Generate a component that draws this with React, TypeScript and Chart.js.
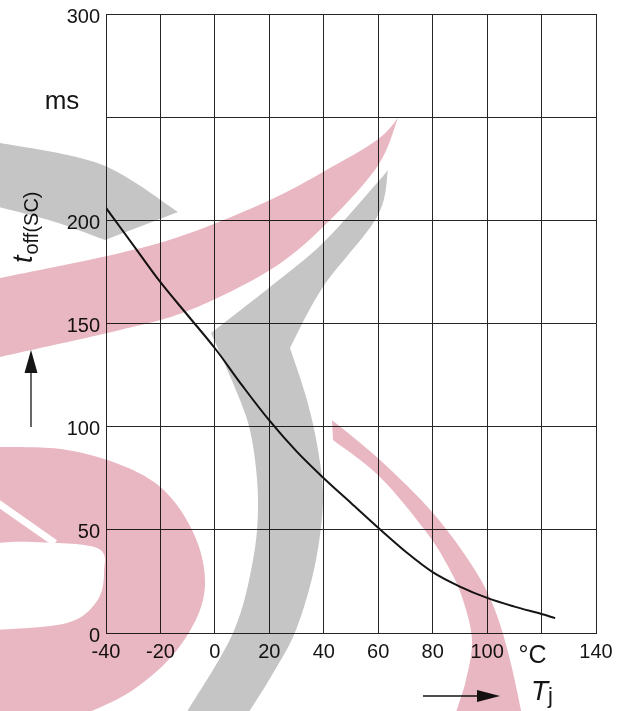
import React, { useEffect, useRef } from 'react';
import { Chart, registerables } from 'chart.js';

Chart.register(...registerables);

// ---- data ----
const temperatures = [-40, -30, -20, -10, 0, 10, 20, 30, 40, 50, 60, 70, 80, 90, 100, 110, 120, 125];
const toffValues = [206, 188, 170, 154, 138, 120, 103, 88, 75, 63, 51, 39.5, 29.5, 22.5, 17, 12.8, 9.2, 7.2];
const xTicks = [-40, -20, 0, 20, 40, 60, 80, 100, 120, 140];
const yTicks = [0, 50, 100, 150, 200, 250, 300];
const xUnit = '°C';
const yUnit = 'ms';
const xUnitTick = 120;
const yUnitTick = 250;

const FONT = '"Liberation Sans", Arial, Helvetica, sans-serif';
const INK = '#151515';
const GRID = '#262626';

type P = [number, number];

function curveThrough(ctx: CanvasRenderingContext2D, pts: P[], move: boolean) {
  if (move) ctx.moveTo(pts[0][0], pts[0][1]);
  else ctx.lineTo(pts[0][0], pts[0][1]);
  for (let i = 0; i < pts.length - 1; i++) {
    const p0 = pts[i - 1] || pts[i];
    const p1 = pts[i];
    const p2 = pts[i + 1];
    const p3 = pts[i + 2] || pts[i + 1];
    ctx.bezierCurveTo(
      p1[0] + (p2[0] - p0[0]) / 6, p1[1] + (p2[1] - p0[1]) / 6,
      p2[0] - (p3[0] - p1[0]) / 6, p2[1] - (p3[1] - p1[1]) / 6,
      p2[0], p2[1]
    );
  }
}

function buildWatermark(w: number, h: number): HTMLCanvasElement {
  const off = document.createElement('canvas');
  off.width = w;
  off.height = h;
  const c = off.getContext('2d')!;
  const pink = 'rgb(233,183,194)';
  const gray = 'rgb(197,197,197)';

  // bottom-left pink blob with hole and slit
  c.fillStyle = pink;
  c.beginPath();
  curveThrough(c, [[-5, 447], [67, 450], [133, 470], [173, 500], [200, 550], [203, 600], [177, 650], [133, 690], [83, 715]], true);
  c.lineTo(-5, 715);
  c.closePath();
  c.fill();
  c.save();
  c.globalCompositeOperation = 'destination-out';
  c.beginPath();
  curveThrough(c, [[-5, 543], [33, 542], [97, 548], [104, 572], [97, 601], [67, 623], [-5, 630]], true);
  c.closePath();
  c.fill();
  c.lineWidth = 7;
  c.beginPath();
  c.moveTo(-5, 501);
  c.lineTo(55, 543);
  c.stroke();
  c.restore();

  // upper-left gray wedge
  c.fillStyle = gray;
  c.beginPath();
  curveThrough(c, [[-5, 142], [100, 164], [178, 212]], true);
  c.lineTo(105, 240);
  curveThrough(c, [[105, 240], [55, 222], [-5, 206]], false);
  c.closePath();
  c.fill();

  // pink swoosh
  c.fillStyle = pink;
  c.beginPath();
  curveThrough(c, [[-5, 279], [120, 253], [190, 233], [270, 200], [323, 172], [377, 140], [398, 118]], true);
  curveThrough(c, [[398, 118], [377, 167], [323, 227], [270, 270], [190, 310], [120, 330], [-5, 358]], false);
  c.closePath();
  c.fill();

  // gray C arc
  c.fillStyle = gray;
  c.beginPath();
  curveThrough(c, [[388, 170], [377, 217], [323, 287], [290, 348]], true);
  curveThrough(c, [[290, 348], [307, 400], [318, 450], [323, 500], [315, 565], [296, 630], [272, 675], [247, 715]], false);
  c.lineTo(185, 715);
  curveThrough(c, [[185, 715], [233, 633], [253, 560], [258, 500], [252, 440], [240, 400], [211, 333]], false);
  curveThrough(c, [[211, 333], [270, 287], [323, 243], [377, 183], [388, 170]], false);
  c.closePath();
  c.fill();

  // pink right arc
  c.fillStyle = pink;
  c.beginPath();
  curveThrough(c, [[332, 420], [380, 460], [433, 513], [473, 567], [495, 610], [510, 660], [522, 715]], true);
  c.lineTo(455, 715);
  curveThrough(c, [[455, 715], [466, 680], [472, 640], [463, 600], [450, 570], [427, 533], [380, 477], [333, 440]], false);
  c.closePath();
  c.fill();

  return off;
}

const decorPlugin = {
  id: 'decor',
  afterDraw(chart: any) {
    const ctx: CanvasRenderingContext2D = chart.ctx;
    const xs = chart.scales.x;
    const ys = chart.scales.y;
    ctx.save();
    ctx.fillStyle = INK;
    ctx.strokeStyle = INK;

    // y unit
    ctx.font = `26px ${FONT}`;
    ctx.textAlign = 'center';
    ctx.textBaseline = 'alphabetic';
    ctx.fillText(yUnit, 62, ys.getPixelForValue(yUnitTick) - 8);

    // x unit
    ctx.font = `25px ${FONT}`;
    ctx.textAlign = 'left';
    ctx.fillText(xUnit, xs.getPixelForValue(xUnitTick) - 23, xs.top + 30);

    // y title (rotated)
    ctx.save();
    ctx.translate(32, 263);
    ctx.rotate(-Math.PI / 2);
    ctx.font = `italic 27px ${FONT}`;
    ctx.textAlign = 'left';
    ctx.fillText('t', 0, 0);
    const tw = ctx.measureText('t').width;
    ctx.font = `20px ${FONT}`;
    ctx.fillText('off(SC)', tw + 1, 6);
    ctx.restore();

    // up arrow
    ctx.lineWidth = 1.3;
    ctx.beginPath();
    ctx.moveTo(31, 427);
    ctx.lineTo(31, 368);
    ctx.stroke();
    ctx.beginPath();
    ctx.moveTo(31, 350);
    ctx.lineTo(24.5, 373);
    ctx.lineTo(37.5, 373);
    ctx.closePath();
    ctx.fill();

    // right arrow
    ctx.beginPath();
    ctx.moveTo(423, 696);
    ctx.lineTo(482, 696);
    ctx.stroke();
    ctx.beginPath();
    ctx.moveTo(500, 696);
    ctx.lineTo(477, 690);
    ctx.lineTo(477, 702);
    ctx.closePath();
    ctx.fill();

    // T_j
    ctx.font = `italic 28px ${FONT}`;
    ctx.textAlign = 'left';
    ctx.fillText('T', 531, 700);
    const Tw = ctx.measureText('T').width;
    ctx.font = `22px ${FONT}`;
    ctx.fillText('j', 531 + Tw, 703);

    // watermark (multiplied over everything)
    const wm = buildWatermark(chart.width, chart.height);
    ctx.globalCompositeOperation = 'multiply';
    ctx.drawImage(wm, 0, 0, chart.width, chart.height);
    ctx.restore();
  },
};

export default function App() {
  const canvasRef = useRef<HTMLCanvasElement | null>(null);

  useEffect(() => {
    document.body.style.margin = '0';
    const canvas = canvasRef.current;
    if (!canvas) return;
    const chart = new Chart(canvas, {
      type: 'line',
      data: {
        datasets: [
          {
            data: temperatures.map((t, i) => ({ x: t, y: toffValues[i] })),
            borderColor: INK,
            borderWidth: 2,
            pointRadius: 0,
            tension: 0.35,
            fill: false,
          },
        ],
      },
      options: {
        animation: false,
        responsive: true,
        maintainAspectRatio: false,
        layout: { padding: { top: 14, right: 30, left: 0, bottom: 0 } },
        plugins: { legend: { display: false }, tooltip: { enabled: false } },
        scales: {
          x: {
            type: 'linear',
            min: xTicks[0],
            max: xTicks[xTicks.length - 1],
            afterBuildTicks: (s: any) => {
              s.ticks = xTicks.map((v) => ({ value: v }));
            },
            afterFit: (s: any) => {
              s.height = 78;
              s.paddingLeft = 0;
              s.paddingRight = 0;
            },
            ticks: {
              autoSkip: false,
              maxRotation: 0,
              padding: 7,
              color: INK,
              font: { family: FONT, size: 20 },
              callback: (v: any) => (v === xUnitTick ? '' : String(v)),
            },
            grid: { color: GRID, lineWidth: 1, drawTicks: false },
            border: { color: GRID, width: 1 },
          },
          y: {
            type: 'linear',
            min: yTicks[0],
            max: yTicks[yTicks.length - 1],
            afterBuildTicks: (s: any) => {
              s.ticks = yTicks.map((v) => ({ value: v }));
            },
            afterFit: (s: any) => {
              s.width = 106;
              s.paddingTop = 0;
              s.paddingBottom = 0;
            },
            ticks: {
              autoSkip: false,
              padding: 6,
              labelOffset: 3,
              color: INK,
              font: { family: FONT, size: 20 },
              callback: (v: any) => (v === yUnitTick ? '' : String(v)),
            },
            grid: { color: GRID, lineWidth: 1, drawTicks: false },
            border: { color: GRID, width: 1 },
          },
        },
      },
      plugins: [decorPlugin],
    } as any);
    return () => chart.destroy();
  }, []);

  return (
    <div style={{ position: 'absolute', left: 0, top: 0, width: 626, height: 711 }}>
      <canvas ref={canvasRef} />
    </div>
  );
}
